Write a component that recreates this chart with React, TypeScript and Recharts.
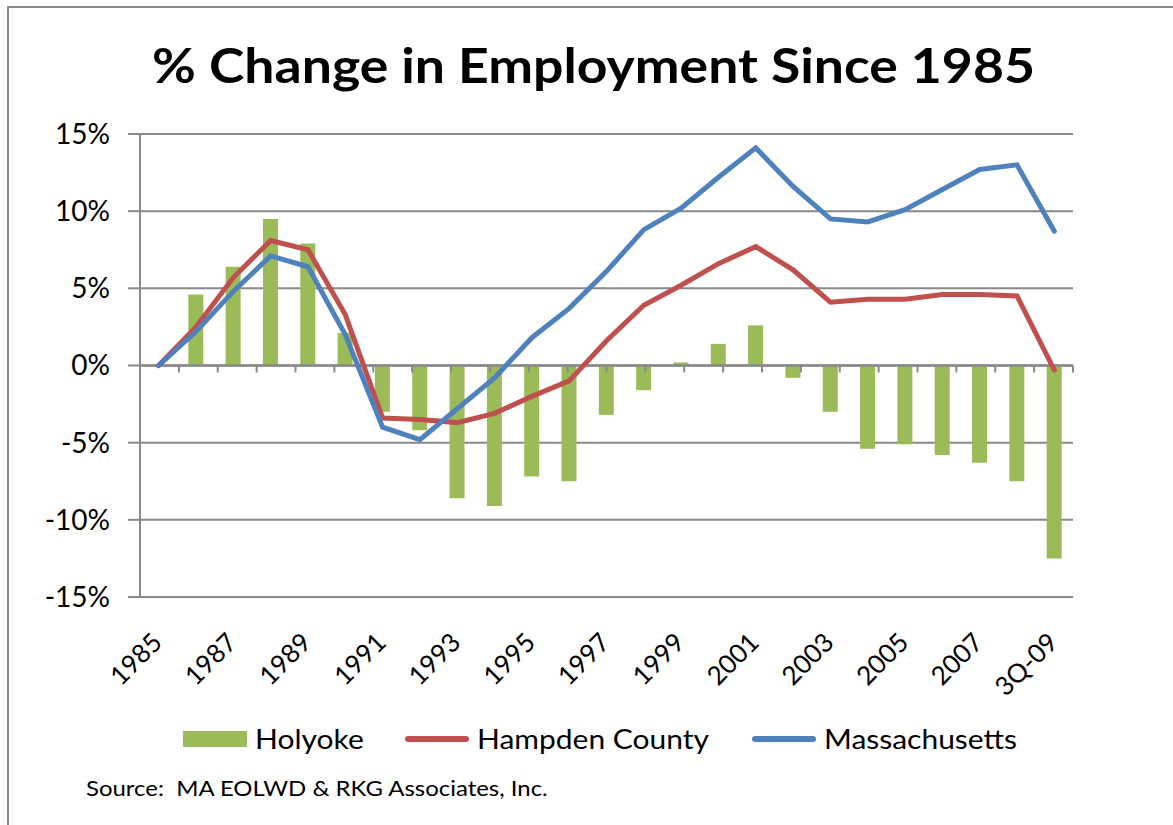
import React from "react";
import {
  Bar,
  ComposedChart,
  CartesianGrid,
  Line,
  ReferenceLine,
  XAxis,
  YAxis,
} from "recharts";

// % change in employment since 1985.
const YEARS = [
  "1985", "1986", "1987", "1988", "1989", "1990", "1991", "1992", "1993",
  "1994", "1995", "1996", "1997", "1998", "1999", "2000", "2001", "2002",
  "2003", "2004", "2005", "2006", "2007", "2008", "3Q-09",
];

const HOLYOKE = [
  0, 4.6, 6.4, 9.5, 7.9, 2.1, -3.0, -4.2, -8.6, -9.1, -7.2, -7.5, -3.2,
  -1.6, 0.2, 1.4, 2.6, -0.8, -3.0, -5.4, -5.1, -5.8, -6.3, -7.5, -12.5,
];

const HAMPDEN = [
  0, 2.5, 5.7, 8.1, 7.5, 3.3, -3.4, -3.5, -3.7, -3.1, -2.0, -1.0, 1.6,
  3.9, 5.2, 6.6, 7.7, 6.2, 4.1, 4.3, 4.3, 4.6, 4.6, 4.5, -0.3,
];

const MASSACHUSETTS = [
  0, 2.2, 4.8, 7.1, 6.4, 2.0, -4.0, -4.8, -2.8, -0.8, 1.8, 3.7, 6.1,
  8.8, 10.2, 12.2, 14.1, 11.6, 9.5, 9.3, 10.1, 11.4, 12.7, 13.0, 8.7,
];

const Y_TICKS = [-15, -10, -5, 0, 5, 10, 15];

// tick marks on the zero line sit between categories
const ZERO_TICKS = Array.from({ length: 25 }, (_, i) => i + 1);

const GREEN = "#9BBB59";
const RED = "#C0504D";
const BLUE = "#4F81BD";
const GRID = "#898989";
const FONT = "Lato, 'Open Sans', sans-serif";

const rows = YEARS.map((year, i) => ({
  year,
  holyoke: HOLYOKE[i],
  hampden: HAMPDEN[i],
  mass: MASSACHUSETTS[i],
}));

const YearTick = (props: any) => {
  const { x, y, payload } = props;
  const ax = x + 5;
  const ay = y + 47;
  return (
    <text
      x={ax}
      y={ay}
      transform={`rotate(-45, ${ax}, ${ay})`}
      textAnchor="end"
      fontFamily={FONT}
      fontSize={26}
      fill="#000"
    >
      {payload.value}
    </text>
  );
};

// the source used a wide Calibri; stretch Lato a little to match
const Wide = ({ children, k }: { children: React.ReactNode; k: number }) => (
  <span
    style={{
      display: "inline-block",
      transform: `scaleX(${k})`,
      transformOrigin: "left center",
      whiteSpace: "pre",
    }}
  >
    {children}
  </span>
);

const LegendItem = ({ kind, color, label }: { kind: string; color: string; label: string }) => (
  <div style={{ display: "flex", alignItems: "center" }}>
    {kind === "bar" ? (
      <div style={{ width: 64, height: 16, background: color }} />
    ) : (
      <div style={{ width: 64, height: 6, borderRadius: 3, background: color }} />
    )}
    <span style={{ marginLeft: 8 }}>
      <Wide k={1.11}>{label}</Wide>
    </span>
  </div>
);

export default function App() {
  return (
    <div
      style={{
        position: "absolute",
        left: 0,
        top: 0,
        width: 1173,
        height: 825,
        background: "#fff",
        overflow: "hidden",
        fontFamily: FONT,
      }}
    >
      <div
        style={{
          position: "absolute",
          left: 7,
          top: 6,
          width: 1200,
          height: 900,
          border: `2px solid ${GRID}`,
        }}
      />
      <div
        style={{
          position: "absolute",
          left: 0,
          width: 1187,
          top: 36,
          textAlign: "center",
          fontSize: 48,
          fontWeight: 700,
          color: "#000",
          transform: "scaleX(1.115)",
          transformOrigin: "593px center",
        }}
      >
        % Change in Employment Since 1985
      </div>

      <div style={{ position: "absolute", left: 0, top: 0 }}>
        <ComposedChart
          width={1173}
          height={825}
          data={rows}
          margin={{ top: 134, right: 100, bottom: 168, left: 0 }}
        >
          <CartesianGrid vertical={false} stroke={GRID} strokeWidth={2} />
          <XAxis
            dataKey="year"
            interval={1}
            axisLine={false}
            tickLine={false}
            tickSize={0}
            tickMargin={0}
            height={60}
            tick={<YearTick />}
          />
          <XAxis xAxisId="ticks" type="number" domain={[0, 25]} hide />
          <YAxis
            domain={[-15, 15]}
            ticks={Y_TICKS}
            width={140}
            axisLine={{ stroke: GRID, strokeWidth: 2 }}
            tickLine={{ stroke: GRID, strokeWidth: 2 }}
            tickSize={12}
            tickMargin={18}
            tickFormatter={(v: number) => `${v}%`}
            tick={{ fontFamily: FONT, fontSize: 28, fill: "#000" }}
          />
          <Bar
            dataKey="holyoke"
            fill={GREEN}
            barSize={15}
            isAnimationActive={false}
          />
          <ReferenceLine y={0} stroke={GRID} strokeWidth={2.5} />
          {ZERO_TICKS.map((t) => (
            <ReferenceLine
              key={t}
              xAxisId="ticks"
              segment={[
                { x: t, y: 0 },
                { x: t, y: -0.45 },
              ]}
              stroke={GRID}
              strokeWidth={2}
            />
          ))}
          <Line
            dataKey="hampden"
            stroke={RED}
            strokeWidth={5}
            dot={false}
            strokeLinecap="round"
            isAnimationActive={false}
          />
          <Line
            dataKey="mass"
            stroke={BLUE}
            strokeWidth={5}
            dot={false}
            strokeLinecap="round"
            isAnimationActive={false}
          />
        </ComposedChart>
      </div>

      <div
        style={{
          position: "absolute",
          left: 183,
          top: 722,
          display: "flex",
          fontSize: 27,
          color: "#000",
        }}
      >
        <div style={{ width: 222 }}>
          <LegendItem kind="bar" color={GREEN} label="Holyoke" />
        </div>
        <div style={{ width: 347 }}>
          <LegendItem kind="line" color={RED} label="Hampden County" />
        </div>
        <LegendItem kind="line" color={BLUE} label="Massachusetts" />
      </div>

      <div
        style={{
          position: "absolute",
          left: 86,
          top: 775,
          fontSize: 21,
          color: "#000",
        }}
      >
        <Wide k={1.14}>{"Source:  MA EOLWD & RKG Associates, Inc."}</Wide>
      </div>
    </div>
  );
}
